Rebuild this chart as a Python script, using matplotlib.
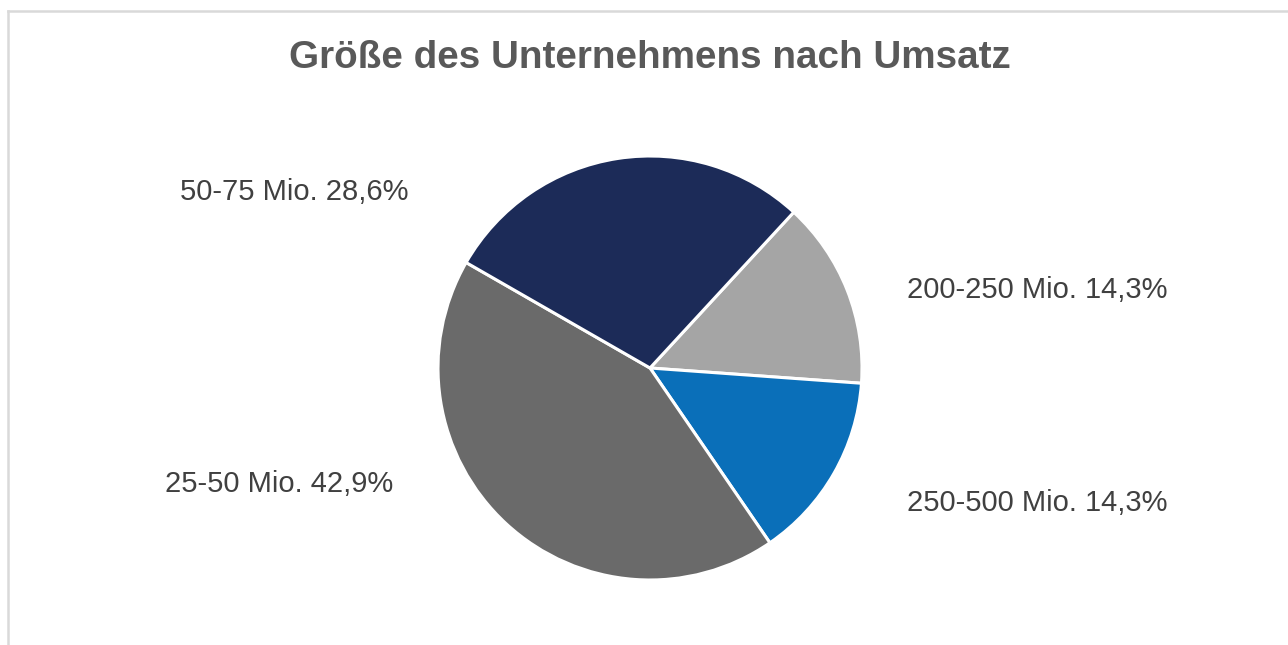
import matplotlib
matplotlib.use('Agg')
import matplotlib.pyplot as plt
from matplotlib.lines import Line2D

# data, clockwise from the upper right
labels = ['200-250 Mio.', '250-500 Mio.', '25-50 Mio.', '50-75 Mio.']
shares = [14.3, 14.3, 42.9, 28.6]
colors = ['#A5A5A5', '#0A6FB9', '#6A6A6A', '#1C2B58']

# label placement (left edge px, center y px)
label_pos = [(907, 290), (907, 503), (165, 484), (180, 192)]

W, H = 1288, 645
plt.rcParams['font.family'] = ['Liberation Sans', 'DejaVu Sans']

fig = plt.figure(figsize=(W / 100, H / 100), dpi=100)

# pie area: center (650, 368), radius 211 px
cx, cy, r = 650, 368, 212
ax = fig.add_axes([(cx - r) / W, (H - cy - r) / H, 2 * r / W, 2 * r / H])
ax.pie(shares, colors=colors, startangle=47.3, counterclock=False,
       radius=1, wedgeprops=dict(edgecolor='white', linewidth=2.2))
ax.set_xlim(-1, 1)
ax.set_ylim(-1, 1)
ax.set_aspect('equal')
ax.axis('off')

for lab, val, (px, py) in zip(labels, shares, label_pos):
    txt = lab + ' ' + ('%.1f' % val).replace('.', ',') + '%'
    fig.text(px / W, 1 - py / H, txt, ha='left', va='center',
             fontsize=21, color='#404040')

fig.text(650 / W, 1 - 58 / H, 'Größe des Unternehmens nach Umsatz',
         ha='center', va='center', fontsize=27.8, fontweight='bold',
         color='#595959')

# chart frame (only top and left edges visible)
fig.add_artist(Line2D([8 / W, 1], [1 - 11 / H, 1 - 11 / H],
                      transform=fig.transFigure, color='#D9D9D9', lw=1.8))
fig.add_artist(Line2D([8 / W, 8 / W], [0, 1 - 11 / H],
                      transform=fig.transFigure, color='#D9D9D9', lw=1.8))

fig.savefig('out.png', dpi=100)
